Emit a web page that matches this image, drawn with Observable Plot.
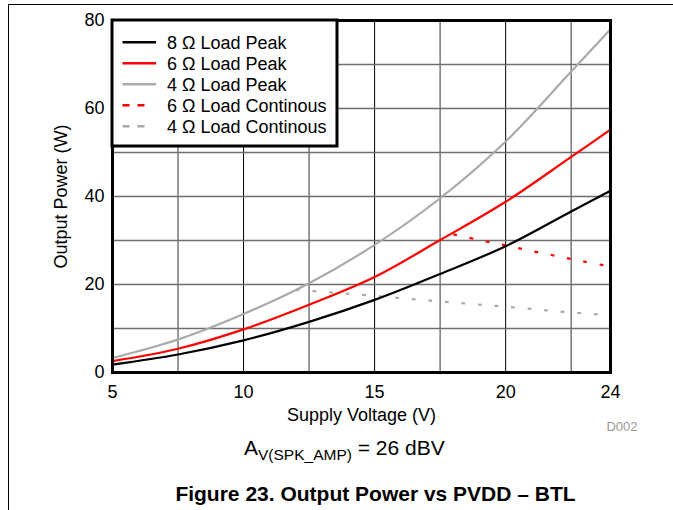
<!DOCTYPE html>
<html>
<head>
<meta charset="utf-8">
<script src="https://cdn.jsdelivr.net/npm/d3@7"></script>
<script src="https://cdn.jsdelivr.net/npm/@observablehq/plot@0.6"></script>
<style>
  html, body { margin: 0; padding: 0; background: #fff; overflow: hidden; }
  #wrap { position: relative; width: 673px; height: 510px; font-family: "Liberation Sans", Arial, sans-serif; }
  #wrap > svg { position: absolute; left: 0; top: 0; }
</style>
</head>
<body>
<div id="wrap"></div>
<script>
// ---- data ----
const vPeak   = [5, 7.5, 10, 12.5, 15, 17.5, 20, 22.5, 24];
const p8Peak  = [1.8, 4.1, 7.3, 11.5, 16.5, 22.4, 28.7, 36.6, 41.3];
const p6Peak  = [2.6, 5.4, 9.8, 15.4, 21.7, 30.1, 38.8, 49.0, 55.2];
const p4Peak  = [3.3, 7.5, 13.3, 20.3, 29.0, 39.6, 52.5, 68.4, 78.0];
const v6Cont  = [18, 19, 20, 21, 22, 23, 24];
const p6Cont  = [31.4, 30.1, 28.9, 27.6, 26.4, 25.2, 24.1];
const v4Cont  = [12, 14, 16, 18, 20, 22, 24];
const p4Cont  = [18.8, 17.9, 16.9, 15.9, 14.95, 13.9, 13.0];

const xTicks  = [5, 10, 15, 20, 24];
const xMajorGrid = [10, 15, 20];
const xMinorGrid = [7.5, 12.5, 17.5, 22.5];
const yTicks  = [0, 20, 40, 60, 80];
const yGrid   = [10, 20, 30, 40, 50, 60, 70];

const seriesNames = ["8 Ω Load Peak", "6 Ω Load Peak", "4 Ω Load Peak", "6 Ω Load Continous", "4 Ω Load Continous"];
const seriesColors = ["#000000", "#ff0000", "#aaaaaa", "#ff0000", "#aaaaaa"];
const seriesDashed = [false, false, false, true, true];

const rows = (vs, ps) => vs.map((v, i) => ({v, p: ps[i]}));

const FONT = "'Liberation Sans', Arial, sans-serif";

const chart = Plot.plot({
  width: 673,
  height: 510,
  marginLeft: 112,
  marginRight: 63,
  marginTop: 20,
  marginBottom: 138,
  style: {fontFamily: FONT, fontSize: "18px", background: "transparent", color: "#000", overflow: "visible"},
  x: {domain: [5, 24]},
  y: {domain: [0, 80]},
  marks: [
    Plot.gridX(xMinorGrid, {stroke: "#6e6e6e", strokeOpacity: 1, strokeWidth: 1.4}),
    Plot.gridX(xMajorGrid, {stroke: "#000", strokeOpacity: 1, strokeWidth: 1}),
    Plot.gridY(yGrid, {stroke: "#6e6e6e", strokeOpacity: 1, strokeWidth: 1.4}),
    Plot.axisX(xTicks, {tickSize: 0, tickPadding: 13, tickFormat: d => String(d),
      label: "Supply Voltage (V)", labelAnchor: "center", labelArrow: "none", labelOffset: 48}),
    Plot.axisY(yTicks, {tickSize: 0, tickPadding: 8, tickFormat: d => String(d),
      label: "Output Power (W)", labelAnchor: "center", labelArrow: "none", labelOffset: 58}),
    Plot.line(rows(v4Cont, p4Cont), {x: "v", y: "p", stroke: seriesColors[4], strokeWidth: 2.2, strokeDasharray: "3.8,12.8", strokeLinecap: "butt", curve: "catmull-rom"}),
    Plot.line(rows(v6Cont, p6Cont), {x: "v", y: "p", stroke: seriesColors[3], strokeWidth: 2.2, strokeDasharray: "3.8,12.8", strokeLinecap: "butt", curve: "catmull-rom"}),
    Plot.line(rows(vPeak, p4Peak), {x: "v", y: "p", stroke: seriesColors[2], strokeWidth: 2.2, curve: "catmull-rom"}),
    Plot.line(rows(vPeak, p6Peak), {x: "v", y: "p", stroke: seriesColors[1], strokeWidth: 2.2, curve: "catmull-rom"}),
    Plot.line(rows(vPeak, p8Peak), {x: "v", y: "p", stroke: seriesColors[0], strokeWidth: 2.2, curve: "catmull-rom"}),
    Plot.frame({stroke: "#000", strokeWidth: 3})
  ]
});

const wrap = document.getElementById("wrap");
wrap.appendChild(chart);

// ---- overlay: legend, notes, page border ----
const ov = d3.select(wrap).append("svg")
  .attr("width", 673).attr("height", 510)
  .style("font-family", FONT);

// page border lines
ov.append("line").attr("x1", 8).attr("y1", 4.5).attr("x2", 673).attr("y2", 4.5).attr("stroke", "#000").attr("stroke-width", 1);
ov.append("line").attr("x1", 8.5).attr("y1", 4).attr("x2", 8.5).attr("y2", 510).attr("stroke", "#000").attr("stroke-width", 1);

// legend box
const lg = ov.append("g");
lg.append("rect").attr("x", 112).attr("y", 20).attr("width", 225).attr("height", 126)
  .attr("fill", "#fff").attr("stroke", "#000").attr("stroke-width", 3);
seriesNames.forEach((name, i) => {
  const cy = 42.3 + i * 21;
  lg.append("line")
    .attr("x1", 122.5).attr("x2", seriesDashed[i] ? 145 : 156)
    .attr("y1", cy).attr("y2", cy)
    .attr("stroke", seriesColors[i]).attr("stroke-width", 2.6)
    .attr("stroke-dasharray", seriesDashed[i] ? "7,8" : null);
  lg.append("text").attr("x", 167).attr("y", cy).attr("dy", "0.36em")
    .attr("font-size", 18).attr("fill", "#000").text(name);
});

// D002
ov.append("text").attr("x", 622).attr("y", 431).attr("text-anchor", "middle")
  .attr("font-size", 13).attr("fill", "#999").text("D002");

// gain note
const note = ov.append("text").attr("x", 244).attr("y", 455).attr("fill", "#000");
note.append("tspan").attr("font-size", 21).text("A");
note.append("tspan").attr("font-size", 15.5).attr("dy", 5).text("V(SPK_AMP)");
note.append("tspan").attr("font-size", 21).attr("dy", -5).text(" = 26 dBV");

// figure caption
ov.append("text").attr("x", 375.5).attr("y", 501).attr("text-anchor", "middle")
  .attr("font-size", 21).attr("font-weight", "bold").attr("fill", "#000")
  .text("Figure 23. Output Power vs PVDD – BTL");
</script>
</body>
</html>
